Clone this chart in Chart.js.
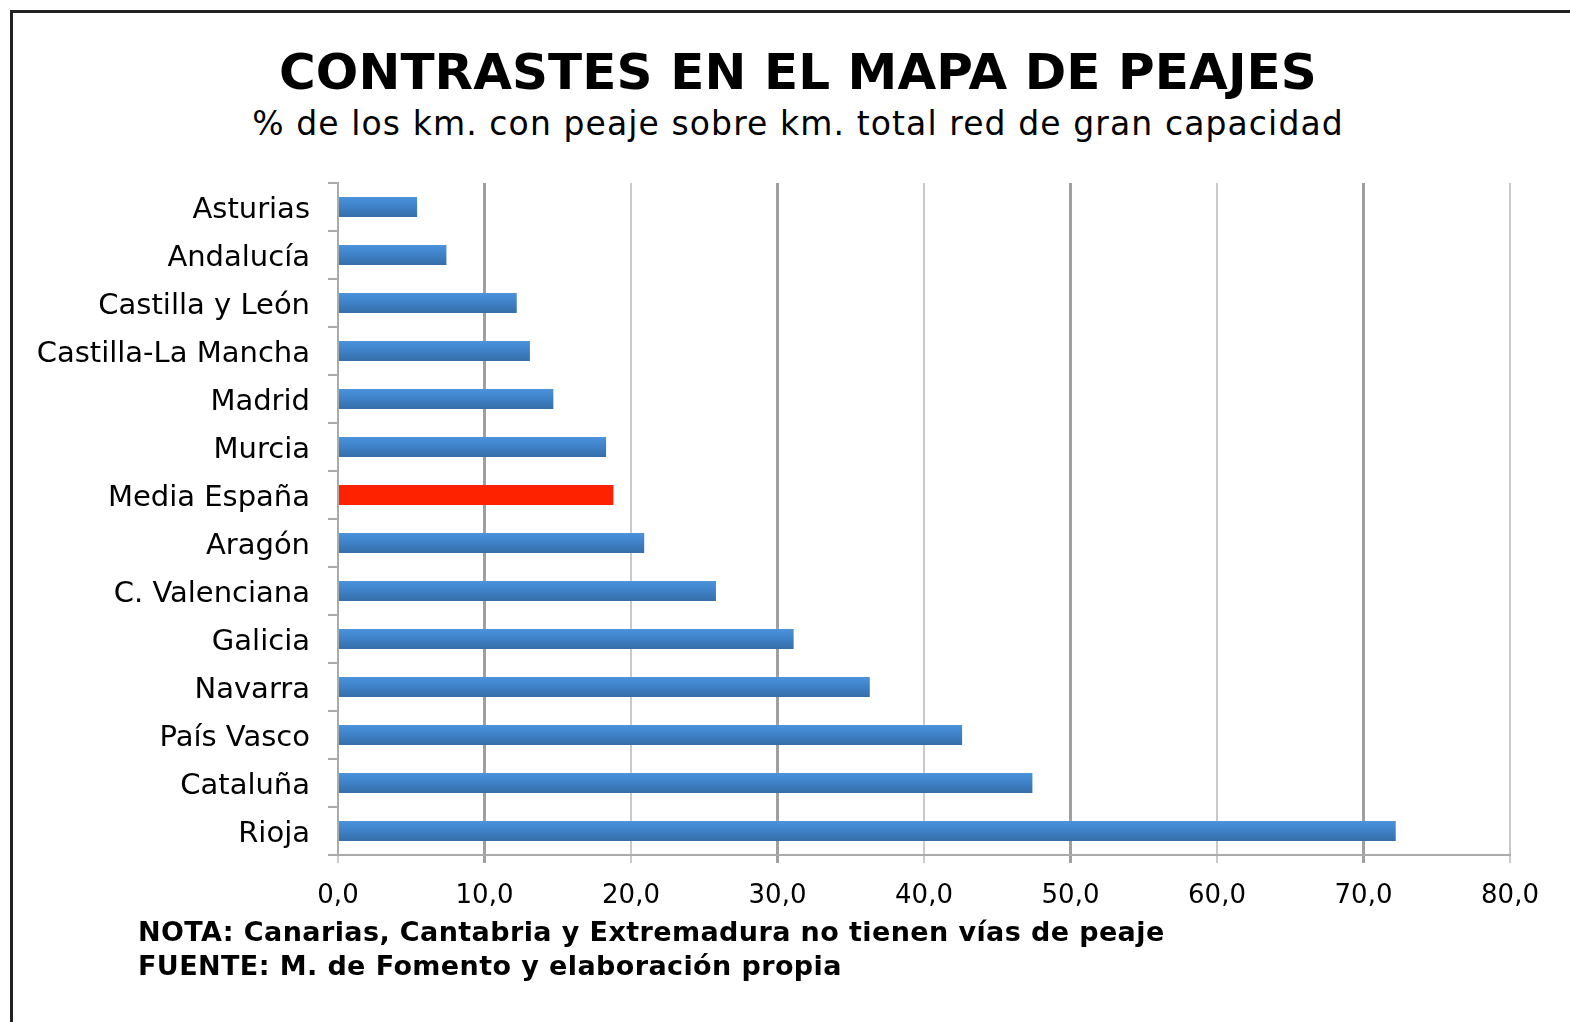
<!DOCTYPE html>
<html lang="es">
<head>
  <meta charset="UTF-8">
  <title>Contrastes en el mapa de peajes</title>
  <style>
    body { margin: 0; background: #fff; font-family: "DejaVu Sans", sans-serif; color: #000; }
    #wrap { position: relative; width: 1570px; height: 1022px; overflow: hidden; }
    .frame { position: absolute; left: 10px; top: 10px; width: 1600px; height: 1100px; border-top: 3px solid #222; border-left: 3px solid #222; }
    h1 { position: absolute; left: 0; width: 1596px; top: 43px; margin: 0; text-align: center; font-size: 50px; font-weight: bold; letter-spacing: 0.1px; }
    .sub { position: absolute; left: 0; width: 1596px; top: 104px; text-align: center; font-size: 33px; letter-spacing: 1.1px; }
    .note { position: absolute; left: 138px; font-size: 27px; font-weight: bold; letter-spacing: 0.4px; }
    canvas { position: absolute; left: 0; top: 0; }
  </style>
</head>
<body>
<div id="wrap">
  <div class="frame"></div>
  <h1>CONTRASTES EN EL MAPA DE PEAJES</h1>
  <div class="sub">% de los km. con peaje sobre km. total red de gran capacidad</div>
  <canvas id="chart" width="1570" height="1022"></canvas>
  <div class="note" style="top:916px">NOTA: Canarias, Cantabria y Extremadura no tienen vías de peaje</div>
  <div class="note" style="top:950px">FUENTE: M. de Fomento y elaboración propia</div>
</div>

<script src="https://cdn.jsdelivr.net/npm/chart.js"></script>
<script>
  const regions = ['Asturias', 'Andalucía', 'Castilla y León', 'Castilla-La Mancha', 'Madrid', 'Murcia', 'Media España',
    'Aragón', 'C. Valenciana', 'Galicia', 'Navarra', 'País Vasco', 'Cataluña', 'Rioja'];
  const peajePct = [5.4, 7.4, 12.2, 13.1, 14.7, 18.3, 18.8, 20.9, 25.8, 31.1, 36.3, 42.6, 47.4, 72.2];
  const highlight = 'Media España';
  const xTicks = [0, 10, 20, 30, 40, 50, 60, 70, 80];

  // blue bars get a soft top-to-bottom shade, the average bar stays flat red
  function barColor(c) {
    if (regions[c.dataIndex] === highlight) return '#ff2200';
    const y = c.chart.scales.y;
    if (!y || y.top === undefined) return '#3f80c6';
    const mid = y.getPixelForValue(c.dataIndex);
    const g = c.chart.ctx.createLinearGradient(0, mid - 10, 0, mid + 10);
    g.addColorStop(0, '#4b93dc');
    g.addColorStop(0.5, '#3f80c6');
    g.addColorStop(1, '#366ea9');
    return g;
  }

  const ctx = document.getElementById('chart').getContext('2d');
  new Chart(ctx, {
    type: 'bar',
    data: {
      labels: regions,
      datasets: [{
        data: peajePct,
        backgroundColor: barColor,
        borderWidth: 0,
        barPercentage: 0.42,
        categoryPercentage: 1
      }]
    },
    options: {
      indexAxis: 'y',
      responsive: false,
      animation: false,
      layout: { padding: { left: 0, top: 183, right: 60, bottom: 107 } },
      plugins: { legend: { display: false }, tooltip: { enabled: false } },
      scales: {
        x: {
          min: 0, max: 80,
          afterBuildTicks: s => { s.ticks = xTicks.map(v => ({ value: v })); },
          afterFit: s => { s.height = 60; },
          border: { color: '#aaa', width: 2 },
          grid: {
            color: c => (c.index % 2 === 1 ? '#a0a0a0' : '#cacaca'),
            lineWidth: c => (c.index % 2 === 1 ? 3 : 2),
            tickLength: 8
          },
          ticks: {
            padding: 18,
            color: '#000',
            font: { family: 'DejaVu Sans', size: 26 },
            callback: v => v.toFixed(1).replace('.', ',')
          }
        },
        y: {
          afterFit: s => { s.width = 338; },
          border: { color: '#aaa', width: 2 },
          grid: { offset: true, drawOnChartArea: false, color: '#aaa', lineWidth: 2, tickLength: 10 },
          ticks: {
            padding: 18,
            labelOffset: 3,
            color: '#000',
            font: { family: 'DejaVu Sans', size: 29 }
          }
        }
      }
    }
  });
</script>
</body>
</html>
